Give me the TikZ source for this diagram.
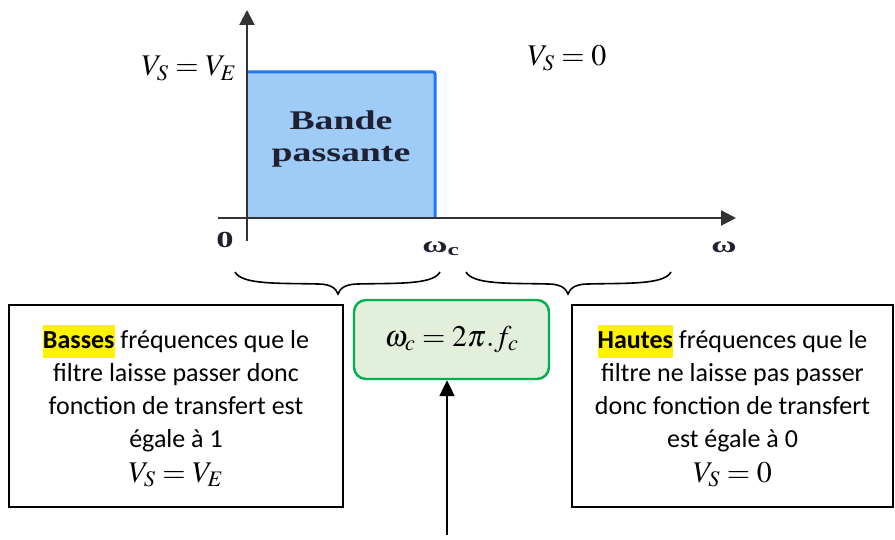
\documentclass[tikz,border=0pt]{standalone}
\usepackage{mathptmx}
\usepackage[no-math]{fontspec}
\setmainfont{Carlito}
\newfontfamily\timesf{Liberation Serif}
\usetikzlibrary{arrows.meta}
\definecolor{axisgray}{HTML}{333333}
\definecolor{bandfill}{HTML}{9FCBF7}
\definecolor{bandedge}{HTML}{1E78F0}
\definecolor{gfill}{HTML}{E2EFDA}
\definecolor{gedge}{HTML}{00B050}
\definecolor{lbl}{HTML}{202033}
\newcommand\hlword[1]{{\setlength{\fboxsep}{0pt}\colorbox{yellow}{\strut\textbf{#1}}}}
\newcommand\bigeq[1]{{\fontsize{30}{34}\selectfont$#1$}}
\tikzset{
  axisline/.style={draw=axisgray, line width=2.2pt, -{Triangle[length=15pt,width=15pt]}},
  txtbox/.style={draw=black, line width=1.3pt, minimum height=202pt, align=center, inner sep=0pt,
    font=\fontsize{26}{33}\selectfont},
  gbox/.style={draw=gedge, fill=gfill, line width=2.4pt, rounded corners=12pt,
    minimum width=195pt, minimum height=79pt, inner sep=0pt},
  bandtxt/.style={font=\timesf\bfseries\fontsize{27}{32}\selectfont, text=lbl, xscale=1.4, anchor=base, inner sep=0pt},
  axlbl/.style={font=\timesf\bfseries\fontsize{23}{26}\selectfont, text=lbl, xscale=1.5, anchor=base, inner sep=0pt},
  eqlbl/.style={anchor=base, inner sep=0pt},
  bracepath/.style={draw=black, line width=1.6pt},
  arrowline/.style={draw=black, line width=2.2pt, -{Triangle[length=16pt,width=15pt]}}
}
\begin{document}
\begin{tikzpicture}[x=1pt,y=-1pt]
\useasboundingbox (0,0) rectangle (895,540);
% band
\fill[bandfill] (247,72) rectangle (435,218);
\draw[bandedge, line width=3pt, rounded corners=2pt] (247,72) -- (435,72) -- (435,218);
% axes
\coordinate (xstart) at (218,218);
\coordinate (xend) at (736,218);
\coordinate (ystart) at (247,241);
\coordinate (yend) at (247,10);
\draw[axisline] (xstart) -- (xend);
\draw[axisline] (ystart) -- (yend);
% band text
\node[bandtxt] (band1) at (341,130) {Bande};
\node[bandtxt] (band2) at (341,162) {passante};
% equations on the graph
\node[eqlbl] (eqleft) at (189,76) {\bigeq{V_S = V_E}};
\node[eqlbl] (eqright) at (567,66) {\bigeq{V_S = 0}};
% axis labels
\node[axlbl] (origin) at (225,248) {0};
\node[axlbl, anchor=base west] (wc) at (422,253) {ω\raisebox{-0.22ex}{\fontsize{17}{17}\selectfont c}};
\node[axlbl] (w) at (724,253) {ω};
% braces
\draw[bracepath] (235,272) .. controls (242,285) and (280,283) .. (318,284)
  .. controls (330,284) and (336,288) .. (338,294)
  .. controls (340,288) and (346,284) .. (358,284)
  .. controls (396,283) and (433,285) .. (440,272);
\draw[bracepath] (466,272) .. controls (473,285) and (511,283) .. (548,284)
  .. controls (560,284) and (566,288) .. (568,294)
  .. controls (570,288) and (576,284) .. (588,284)
  .. controls (626,283) and (664,285) .. (671,272);
% boxes
\node[txtbox, minimum width=334pt] (lbox) at (176,406)
  {\hlword{Basses} fréquences que le\\ filtre laisse passer donc\\ fonction de transfert est\\ égale à 1\\[2pt] \bigeq{V_S = V_E}};
\node[txtbox, minimum width=321pt] (rbox) at (732.5,406)
  {\hlword{Hautes} fréquences que le\\ filtre ne laisse pas passer\\ donc fonction de transfert\\ est égale à 0\\[2pt] \bigeq{V_S = 0}};
\node[gbox] (gbox) at (451.5,339.5) {\bigeq{\omega_c = 2\pi.f_c}};
% arrow
\coordinate (arrstart) at (447,535);
\draw[arrowline] (arrstart) -- (arrstart |- gbox.south);
\end{tikzpicture}
\end{document}
